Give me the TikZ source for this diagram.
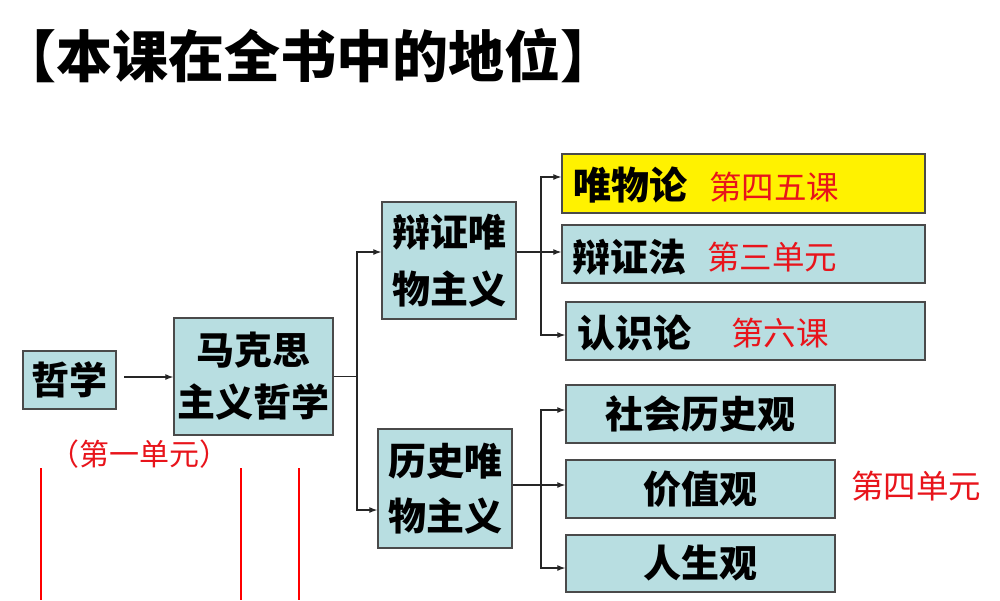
\documentclass[tikz,border=0pt]{standalone}
\usepackage{fontspec}
\setmainfont{Noto Sans CJK SC}
\newfontfamily\cjk{Noto Sans CJK SC}
\usetikzlibrary{arrows.meta}
\definecolor{boxfill}{HTML}{B8DEE1}
\definecolor{boxline}{HTML}{4A4A4A}
\definecolor{redtxt}{HTML}{E8141B}
\tikzset{
  box/.style={draw=boxline, line width=1.4pt, fill=boxfill, inner sep=0pt},
  ybox/.style={box, fill=yellow},
  lbl/.style={font=\cjk\bfseries\fontsize{38}{50}\selectfont, inner sep=0pt, text=black},
  rlbl/.style={font=\cjk\fontsize{32.5}{40}\selectfont, inner sep=0pt, text=redtxt},
  conn/.style={draw=black!85, line width=1.1pt},
  arr/.style={conn, -{Latex[length=8pt,width=6pt]}},
  redline/.style={draw=red, line width=1.1pt}
}
\begin{document}
\begin{tikzpicture}[x=1pt,y=-1pt]
\useasboundingbox (0,0) rectangle (1000,600);
% title
\node[font=\cjk\bfseries\fontsize{56}{64}\selectfont, inner sep=0pt, anchor=west] (title) at (0,56) {【本课在全书中的地位】};
% boxes
\node[box, minimum width=93pt, minimum height=58pt] (zx) at (69.5,380) {};
\node[lbl] (zxt) at (zx.center) {哲学};
\node[box, minimum width=159pt, minimum height=117pt] (mk) at (253.5,376.5) {};
\node[lbl, align=center] (mkt) at (mk.center) {马克思\\[2pt]主义哲学};
\node[box, minimum width=134pt, minimum height=117pt] (bz) at (449,260.5) {};
\node[lbl, align=center] (bzt) at (bz.center) {辩证唯\\[7pt]物主义};
\node[box, minimum width=134pt, minimum height=119pt] (ls) at (445,488.5) {};
\node[lbl, align=center] (lst) at (ls.center) {历史唯\\[5pt]物主义};
% right column 1
\node[ybox, minimum width=363pt, minimum height=59pt] (wl) at (743.5,183.5) {};
\node[lbl, anchor=west] (wlt) at (573,185) {唯物论};
\node[rlbl, anchor=west] (wlr) at (709,187) {第四五课};
\node[box, minimum width=363pt, minimum height=58pt] (bf) at (743.5,254) {};
\node[lbl, anchor=west] (bft) at (572,257) {辩证法};
\node[rlbl, anchor=west] (bfr) at (707,257) {第三单元};
\node[box, minimum width=359pt, minimum height=58pt] (rs) at (745.5,331) {};
\node[lbl, anchor=west] (rst) at (577,333) {认识论};
\node[rlbl, anchor=west] (rsr) at (731,333) {第六课};
% right column 2
\node[box, minimum width=269pt, minimum height=58pt] (sh) at (700.5,414) {};
\node[lbl] (sht) at (sh.center) {社会历史观};
\node[box, minimum width=269pt, minimum height=58pt] (jz) at (700.5,489) {};
\node[lbl] (jzt) at (jz.center) {价值观};
\node[box, minimum width=269pt, minimum height=57pt] (rsg) at (700.5,563.5) {};
\node[lbl] (rsgt) at (rsg.center) {人生观};
\node[rlbl, anchor=west] (d4) at (851,486) {第四单元};
\node[rlbl, font=\cjk\fontsize{30}{36}\selectfont] (d1) at (139,454) {（第一单元）};
% red lines
\coordinate (r1a) at (41,468); \coordinate (r1b) at (41,600);
\coordinate (r2a) at (241,468); \coordinate (r2b) at (241,600);
\coordinate (r3a) at (299,468); \coordinate (r3b) at (299,600);
\draw[redline] (r1a) -- (r1b);
\draw[redline] (r2a) -- (r2b);
\draw[redline] (r3a) -- (r3b);
% connectors
\coordinate (za) at (124,377);
\draw[arr] (za) -- (mk.west |- za);
\coordinate (ja) at (357,376.5);
\coordinate (jb) at (357,252);
\coordinate (jc) at (357,510);
\draw[conn] (mk.east) -- (ja);
\draw[arr] (ja) -- (jb) -- (bz.west |- jb);
\draw[arr] (ja) -- (jc) -- (ls.west |- jc);
% group 1
\coordinate (ka) at (541,252);
\coordinate (kb) at (541,177);
\coordinate (kc) at (541,335);
\draw[arr] (bz.east |- ka) -- (bf.west |- ka);
\draw[arr] (ka) -- (kb) -- (wl.west |- kb);
\draw[arr] (ka) -- (kc) -- (rs.west |- kc);
% group 2
\coordinate (ma) at (541,485);
\coordinate (mb) at (541,410);
\coordinate (mc) at (541,568);
\draw[arr] (ls.east |- ma) -- (jz.west |- ma);
\draw[arr] (ma) -- (mb) -- (sh.west |- mb);
\draw[arr] (ma) -- (mc) -- (rsg.west |- mc);
\end{tikzpicture}
\end{document}
